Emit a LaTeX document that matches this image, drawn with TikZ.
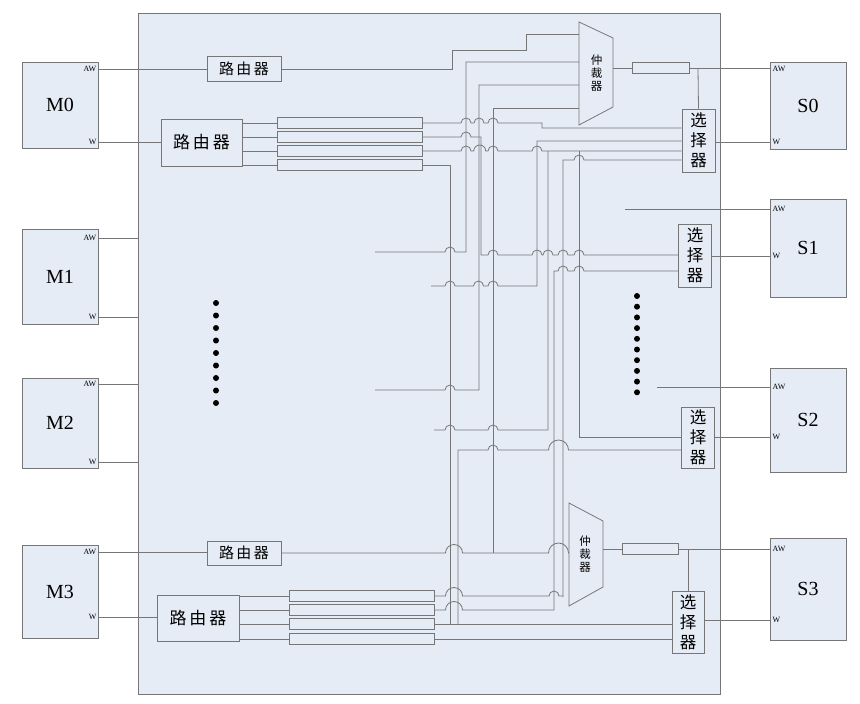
\documentclass[tikz,border=0pt]{standalone}
\usepackage{fontspec}
\setmainfont{Liberation Serif}
\newfontfamily\cjk{Noto Sans CJK SC}
\definecolor{bg}{HTML}{E6ECF6}
\definecolor{bd}{HTML}{767676}
\definecolor{wr}{HTML}{767676}
\newcommand\jsm{arc[start angle=180,end angle=0,radius=5pt]}
\newcommand\jmd{arc[start angle=180,end angle=0,radius=6pt]}
\newcommand\jlg{arc[start angle=180,end angle=0,radius=8.5pt]}
\newcommand\jxl{arc[start angle=180,end angle=0,radius=10pt]}
\newcommand\rtxt[1]{\cjk 路\hspace{#1}由\hspace{#1}器}
\begin{document}
\begin{tikzpicture}[x=1pt,y=-1pt,
  bx/.style={draw=bd,fill=bg,line width=0.8pt,inner sep=0pt},
  wire/.style={draw=wr,line width=0.8pt},
  rt/.style={bx,font=\fontsize{15}{15}\selectfont},
  rtbig/.style={bx,font=\fontsize{17}{17}\selectfont},
  selbox/.style={bx,font=\cjk\fontsize{16.5}{20}\selectfont,align=center,minimum width=33pt,minimum height=63pt},
  arbtxt/.style={font=\cjk\fontsize{11.5}{13}\selectfont,align=center,inner sep=0pt},
  mbox/.style={bx,minimum width=76pt,font=\fontsize{20}{20}\selectfont},
  tag/.style={font=\fontsize{8}{8}\selectfont,inner sep=0.5pt},
  buf/.style={bx,minimum width=145pt,minimum height=11pt},
  obuf/.style={bx,minimum height=11pt},
  bigdot/.style={circle,fill=black,inner sep=0pt,minimum size=6pt}]
\fill[white] (0,0) rectangle (860,704);
\useasboundingbox (0,0) rectangle (860,704);
% frame
\node[bx,minimum width=582pt,minimum height=681pt] (frame) at (429,353.5) {};
% masters
\node[mbox,minimum height=86pt] (M0) at (60,105) {M0};
\node[mbox,minimum height=95pt] (M1) at (60,276.5) {M1};
\node[mbox,minimum height=90pt] (M2) at (60,423) {M2};
\node[mbox,minimum height=93pt] (M3) at (60,591.5) {M3};
\foreach \m/\a/\w in {M0/69/142,M1/238/317,M2/384/462,M3/552/617}{
  \node[tag,anchor=east] (\m aw) at (97,\a) {AW};
  \node[tag,anchor=east] (\m w) at (97,\w) {W};
}
% slaves
\node[mbox,minimum height=87pt] (S0) at (808,105.5) {S0};
\node[mbox,minimum height=98pt] (S1) at (808,248) {S1};
\node[mbox,minimum height=104pt] (S2) at (808,420) {S2};
\node[mbox,minimum height=102pt] (S3) at (808,589) {S3};
\foreach \s/\a/\w in {S0/69/142,S1/209/256,S2/387/437,S3/549/620}{
  \node[tag,anchor=west] (\s aw) at (772,\a) {AW};
  \node[tag,anchor=west] (\s w) at (772,\w) {W};
}
% routers
\node[rt,minimum width=74pt,minimum height=25pt] (R0a) at (244,69) {\rtxt{2.5pt}};
\node[rtbig,minimum width=81pt,minimum height=47pt] (R0b) at (201.5,142.5) {\rtxt{3pt}};
\node[rt,minimum width=74pt,minimum height=24pt] (R3a) at (244,553) {\rtxt{2.5pt}};
\node[rtbig,minimum width=82pt,minimum height=46pt] (R3b) at (198,618) {\rtxt{3pt}};
% buffers
\node[buf] (BA) at (349.5,123) {};
\node[buf] (BB) at (349.5,137) {};
\node[buf] (BC) at (349.5,151) {};
\node[buf] (BD) at (349.5,165) {};
\node[buf] (BE) at (361.5,596) {};
\node[buf] (BF) at (361.5,610) {};
\node[buf] (BG) at (361.5,624) {};
\node[buf] (BH) at (361.5,639) {};
\node[obuf,minimum width=57pt] (OB0) at (660.5,68) {};
\node[obuf,minimum width=56pt] (OB3) at (650,549) {};
% arbiters
\draw[bx] (579,22) -- (613,38) -- (613,107) -- (579,125) -- cycle;
\node[arbtxt] (A0) at (596.5,73) {仲\\裁\\器};
\draw[bx] (569,503) -- (603,521) -- (603,587) -- (569,606) -- cycle;
\node[arbtxt] (A3) at (585,554) {仲\\裁\\器};
% selectors
\node[selbox] (X0) at (698.5,140.5) {选\\择\\器};
\node[selbox] (X1) at (695,255.5) {选\\择\\器};
\node[selbox,minimum height=61pt] (X2) at (698,437.5) {选\\择\\器};
\node[selbox,minimum width=32pt,minimum height=62pt] (X3) at (688,622) {选\\择\\器};
% dots
\foreach \i in {0,...,8} \node[bigdot] (dl\i) at (216,{303+12.5*\i}) {};
\foreach \i in {0,...,9} \node[bigdot] (dr\i) at (637,{296+10.7*\i}) {};
% stub coordinates
\coordinate (st1) at (375,252);
\coordinate (st2) at (431,286);
\coordinate (st3) at (375,390);
\coordinate (st4) at (434,430);
\coordinate (sr1) at (625,209);
\coordinate (sr2) at (657,387);
% master side wires
\draw[wire] (M0.east |- M0aw) -- (R0a.west);
\draw[wire] (M0.east |- M0w) -- (R0b.west |- M0w);
\draw[wire] (M1.east |- M1aw) -- (frame.west |- M1aw);
\draw[wire] (M1.east |- M1w) -- (frame.west |- M1w);
\draw[wire] (M2.east |- M2aw) -- (frame.west |- M2aw);
\draw[wire] (M2.east |- M2w) -- (frame.west |- M2w);
\draw[wire] (M3.east |- M3aw) -- (R3a.west |- M3aw);
\draw[wire] (M3.east |- M3w) -- (R3b.west |- M3w);
\foreach \b in {BA,BB,BC,BD} \draw[wire] (R0b.east |- \b) -- (\b.west);
\foreach \b in {BE,BF,BG,BH} \draw[wire] (R3b.east |- \b) -- (\b.west);
% top router to arbiter 0
\draw[wire] (R0a.east) -- (452,69) -- (452,50) -- (526,50) -- (526,34) -- (579,34);
% row A
\draw[wire] (BA.east) -- (461,123) \jsm -- (474,123) \jsm -- (488,123) \jsm -- (542,123) -- (542,128) -- (X0.west |- 0,128);
% row B
\draw[wire] (BB.east) -- (461,137) \jsm -- (481,137) -- (481,255) -- (488,255) \jsm -- (532,255) \jsm -- (543,255) \jsm -- (558,255) \jsm -- (574,255) \jsm -- (X1.west |- 0,255);
% row C
\draw[wire] (BC.east) -- (461,151) \jsm -- (473.75,151) \jmd -- (488,151) \jsm -- (532,151) \jsm -- (X0.west |- 0,151);
% row D
\draw[wire] (BD.east) -- (450,165) -- (450,624);
% arbiter 0 inputs
\draw[wire] (st1) -- (445,252) \jsm -- (466,252) -- (466,62) -- (579,62);
\draw[wire] (st3) -- (445,390) \jsm -- (479,390) -- (479,85) -- (579,85);
\draw[wire] (579,108) -- (493,108) -- (493,553);
% selector inputs
\draw[wire] (st2) -- (445,286) \jsm -- (473.5,286) \jsm -- (488,286) \jsm -- (537,286) -- (537,141) -- (X0.west |- 0,141);
\draw[wire] (st4) -- (445,430) \jsm -- (488,430) \jsm -- (548,430) -- (548,151);
\draw[wire] (579,151) -- (579,437) -- (X2.west |- 0,437);
\draw[wire] (563,597) -- (563,160) -- (574,160) \jsm -- (X0.west |- 0,160);
\draw[wire] (554,610) -- (554,271) -- (558,271) \jsm -- (574,271) \jsm -- (X1.west |- 0,271);
\draw[wire] (458,624) -- (458,450) -- (488,450) \jsm -- (548.5,450) \jxl -- (X2.west |- 0,450);
% bottom rows
\draw[wire] (R3a.east) -- (445.5,553) \jlg -- (548.5,553) \jxl -- (569,553);
\draw[wire] (BE.east) -- (445.5,596) \jlg -- (549,596) \jsm -- (563,596);
\draw[wire] (BF.east) -- (445.5,610) \jlg -- (554,610);
\draw[wire] (BG.east) -- (X3.west |- BG);
\draw[wire] (BH.east) -- (X3.west |- BH);
% arbiter outputs
\draw[wire] (613,68) -- (OB0.west);
\draw[wire] (OB0.east) -- (S0.west |- OB0);
\draw[wire] (698,68) -- (X0.north);
\draw[wire] (603,549) -- (OB3.west);
\draw[wire] (OB3.east) -- (S3.west |- OB3);
\draw[wire] (688,549) -- (X3.north);
% selector outputs
\draw[wire] (X0.east |- S0w) -- (S0.west |- S0w);
\draw[wire] (X1.east |- S1w) -- (S1.west |- S1w);
\draw[wire] (X2.east |- S2w) -- (S2.west |- S2w);
\draw[wire] (X3.east |- S3w) -- (S3.west |- S3w);
% other AW lines
\draw[wire] (sr1) -- (S1.west |- sr1);
\draw[wire] (sr2) -- (S2.west |- sr2);
\end{tikzpicture}
\end{document}
